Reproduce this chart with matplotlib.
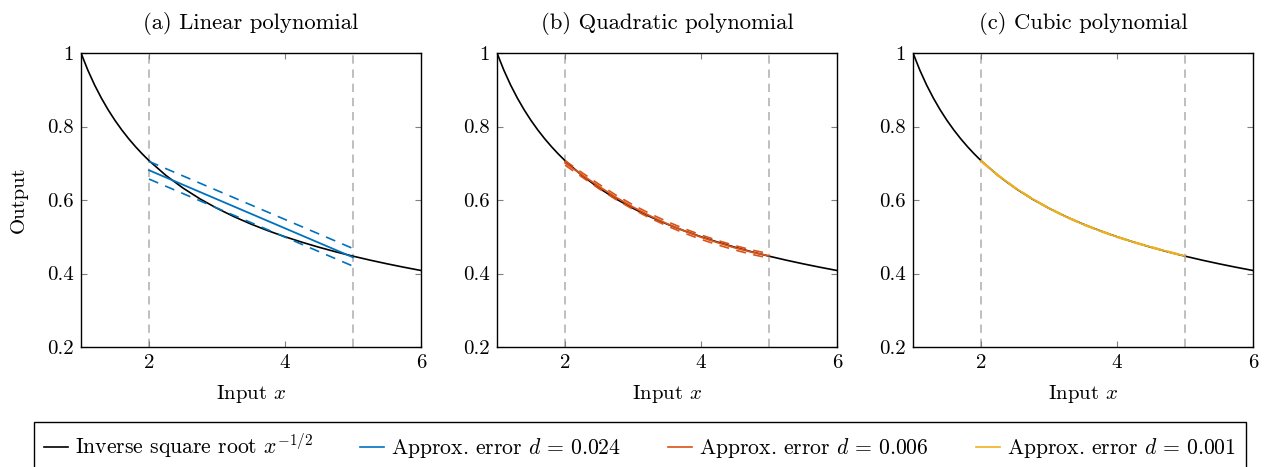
import matplotlib
matplotlib.use("Agg")
import matplotlib.pyplot as plt
from matplotlib.lines import Line2D

plt.rcParams['font.family'] = ['cmr10', 'DejaVu Serif']
plt.rcParams['mathtext.fontset'] = 'cm'
plt.rcParams['axes.formatter.use_mathtext'] = True
plt.rcParams['font.size'] = 15

# Inverse square root curve, sampled on [1, 6]
curve_x = [1.0, 1.1, 1.2, 1.3, 1.4, 1.5, 1.6, 1.7, 1.8, 1.9, 2.0,
           2.25, 2.5, 2.75, 3.0, 3.25, 3.5, 3.75, 4.0, 4.25, 4.5, 4.75,
           5.0, 5.25, 5.5, 5.75, 6.0]
curve_y = [1.0, 0.9535, 0.9129, 0.8771, 0.8452, 0.8165, 0.7906, 0.7670,
           0.7454, 0.7255, 0.7071, 0.6667, 0.6325, 0.6030, 0.5774, 0.5547,
           0.5345, 0.5164, 0.5000, 0.4851, 0.4714, 0.4588, 0.4472, 0.4364,
           0.4264, 0.4170, 0.4082]

# Approximation interval
interval = [2, 5]

# Polynomial approximations on the interval
lin_x = [2.0, 5.0]
lin_y = [0.681, 0.444]
lin_d = 0.024

approx_x = [2.0, 2.25, 2.5, 2.75, 3.0, 3.25, 3.5, 3.75, 4.0, 4.25, 4.5, 4.75, 5.0]
quad_y = [0.701, 0.6685, 0.6368, 0.6072, 0.5808, 0.5568, 0.5355, 0.5162,
          0.4990, 0.4836, 0.4699, 0.4578, 0.4480]
quad_d = 0.006
cubic_y = [0.7061, 0.6672, 0.6333, 0.6036, 0.5775, 0.5544, 0.5340, 0.5159,
           0.4997, 0.4851, 0.4718, 0.4594, 0.4474]
cubic_d = 0.001

titles = ['(a) Linear polynomial', '(b) Quadratic polynomial', '(c) Cubic polynomial']
colors = ['#0072BD', '#D95319', '#EDB120']
errors = [lin_d, quad_d, cubic_d]
approx = [(lin_x, lin_y), (approx_x, quad_y), (approx_x, cubic_y)]

fig = plt.figure(figsize=(12.71, 4.67), dpi=100)
lefts = [81, 497, 913]
W, H = 1271, 467

for i in range(3):
    ax = fig.add_axes([lefts[i] / W, 1 - 347 / H, 340 / W, 294 / H])
    for xv in interval:
        ax.axvline(xv, color='#b4b4b4', lw=1.2, ls=(0, (5, 3.5)), zorder=1)
    ax.plot(curve_x, curve_y, color='black', lw=1.2, zorder=2)
    px, py = approx[i]
    d = errors[i]
    ax.plot(px, py, color=colors[i], lw=1.3, zorder=3)
    ax.plot(px, [v + d for v in py], color=colors[i], lw=1.2, ls=(0, (6, 4.5)), zorder=3)
    ax.plot(px, [v - d for v in py], color=colors[i], lw=1.2, ls=(0, (6, 4.5)), zorder=3)

    ax.set_xlim(1, 6)
    ax.set_ylim(0.2, 1)
    ax.set_xticks([2, 4, 6])
    ax.set_xticklabels(['2', '4', '6'])
    ax.set_yticks([0.2, 0.4, 0.6, 0.8, 1.0])
    ax.set_yticklabels(['0.2', '0.4', '0.6', '0.8', '1'])
    ax.tick_params(direction='in', length=4, width=0.8, color='#808080',
                   top=True, right=True, pad=5)
    for s in ax.spines.values():
        s.set_linewidth(1.0)
    ax.set_title(titles[i], pad=17, fontsize=16.3)
    ax.set_xlabel('Input $x$', labelpad=8)
    if i == 0:
        ax.set_ylabel('Output', labelpad=14)

handles = [Line2D([], [], color='black', lw=1.2)] + \
          [Line2D([], [], color=c, lw=1.2) for c in colors]
labels = [r'Inverse square root $x^{-1/2}$',
          r'Approx. error $d\,=\,0.024$',
          r'Approx. error $d\,=\,0.006$',
          r'Approx. error $d\,=\,0.001$']
leg = fig.legend(handles, labels, loc='center', ncol=4,
                 bbox_to_anchor=(640 / W, 1 - 446 / H),
                 frameon=True, fancybox=False, edgecolor='black', framealpha=1,
                 handlelength=1.1, handletextpad=0.35, columnspacing=2.15,
                 borderpad=0.45, fontsize=15.6)
leg.get_frame().set_linewidth(1.0)

fig.savefig('out.png', dpi=100)
